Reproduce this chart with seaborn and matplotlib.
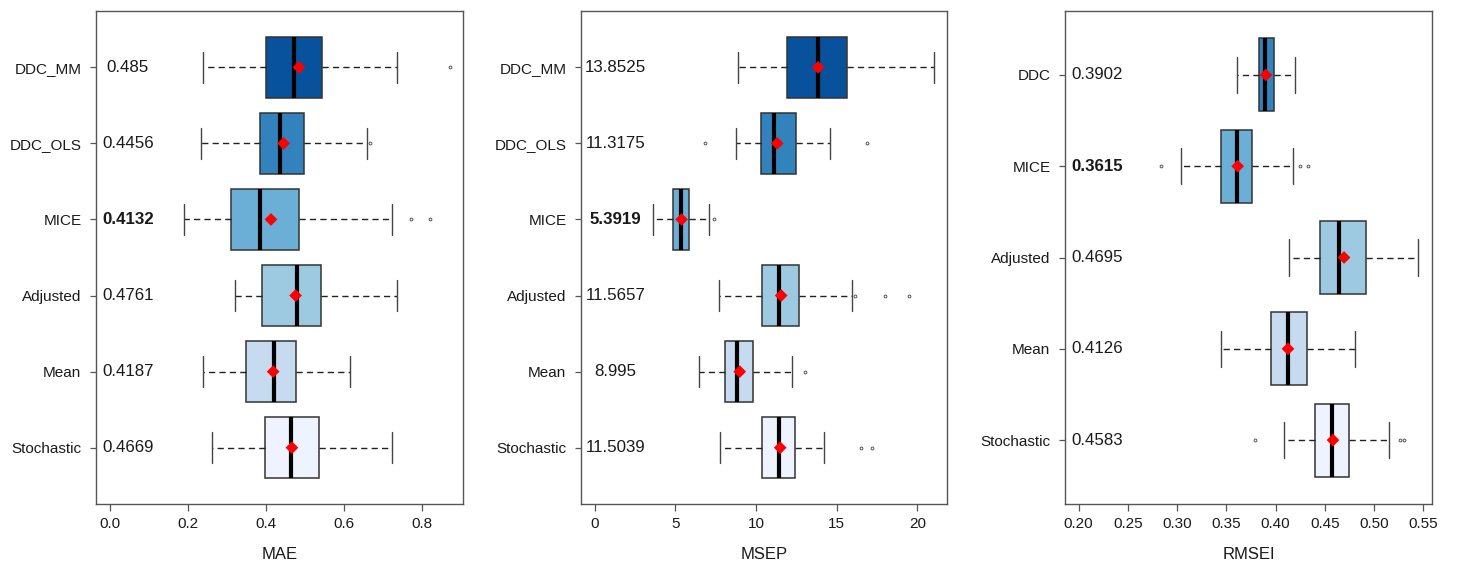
import numpy as np
import matplotlib
matplotlib.use("Agg")
import matplotlib.pyplot as plt
import matplotlib.transforms as mtransforms
import seaborn as sns

# ---- methods ----
methods6 = ["DDC_MM", "DDC_OLS", "MICE", "Adjusted", "Mean", "Stochastic"]
methods5 = ["DDC", "MICE", "Adjusted", "Mean", "Stochastic"]

# ---- MAE summaries (lower whisker, Q1, median, Q3, upper whisker, outliers, mean) ----
mae_lo = [0.238, 0.233, 0.190, 0.322, 0.238, 0.261]
mae_q1 = [0.400, 0.386, 0.310, 0.390, 0.349, 0.397]
mae_med = [0.473, 0.435, 0.385, 0.479, 0.421, 0.464]
mae_q3 = [0.545, 0.498, 0.485, 0.540, 0.477, 0.537]
mae_hi = [0.737, 0.658, 0.723, 0.737, 0.616, 0.724]
mae_out = [[0.872], [0.666], [0.771, 0.820], [], [], []]
mae_mean = [0.485, 0.4456, 0.4132, 0.4761, 0.4187, 0.4669]

# ---- MSEP summaries ----
msep_lo = [8.87, 8.74, 3.65, 7.69, 6.49, 7.75]
msep_q1 = [11.90, 10.33, 4.89, 10.39, 8.08, 10.39]
msep_med = [13.83, 11.09, 5.36, 11.44, 8.84, 11.44]
msep_q3 = [15.67, 12.49, 5.84, 12.64, 9.81, 12.43]
msep_hi = [21.01, 14.62, 7.09, 15.94, 12.25, 14.20]
msep_out = [[], [6.83, 16.91], [7.42], [16.14, 17.98, 19.50], [13.03], [16.53, 17.22]]
msep_mean = [13.8525, 11.3175, 5.3919, 11.5657, 8.995, 11.5039]

# ---- RMSEI summaries ----
rmsei_lo = [0.3613, 0.3039, 0.4138, 0.3441, 0.4090]
rmsei_q1 = [0.3830, 0.3441, 0.4449, 0.3958, 0.4404]
rmsei_med = [0.3891, 0.3610, 0.4642, 0.4124, 0.4577]
rmsei_q3 = [0.3982, 0.3765, 0.4916, 0.4320, 0.4749]
rmsei_hi = [0.4198, 0.4175, 0.5446, 0.4807, 0.5152]
rmsei_out = [[], [0.2832, 0.4249, 0.4327], [], [], [0.3786, 0.5264, 0.5304]]
rmsei_mean = [0.3902, 0.3615, 0.4695, 0.4126, 0.4583]

# ---- axis ticks ----
mae_ticks = [0.0, 0.2, 0.4, 0.6, 0.8]
msep_ticks = [0, 5, 10, 15, 20]
rmsei_ticks = [0.20, 0.25, 0.30, 0.35, 0.40, 0.45, 0.50, 0.55]

blues6 = ["#08519C", "#3182BD", "#6BAED6", "#9ECAE1", "#C6DBEF", "#EFF3FF"]

sns.set_style("ticks")
plt.rcParams["font.family"] = ["Liberation Sans", "DejaVu Sans"]

TXT = "#1a1a1a"
SPINE = "#555555"


def padded(lo, hi, frac=0.04):
    d = (hi - lo) * frac
    return lo - d, hi + d


def draw_panel(ax, names, lo, q1, med, q3, hi, out, means, colors,
               xlabel, xraw, ticks, tickfmt, label_x):
    n = len(names)
    pos = np.arange(n, 0, -1)
    stats = [dict(label=nm, whislo=a, q1=b, med=c, q3=d, whishi=e, fliers=f)
             for nm, a, b, c, d, e, f in zip(names, lo, q1, med, q3, hi, out)]
    kw = dict(positions=pos, widths=0.8, patch_artist=True, showfliers=True,
              boxprops=dict(edgecolor="#333333", linewidth=1.1),
              medianprops=dict(color="black", linewidth=3.0, solid_capstyle="butt"),
              whiskerprops=dict(color="#222222", linewidth=1.0, linestyle=(0, (4.5, 3))),
              capprops=dict(color="#444444", linewidth=1.0),
              flierprops=dict(marker="o", markerfacecolor="none",
                              markeredgecolor="#555555", markersize=2.0,
                              markeredgewidth=0.7, linestyle="none"))
    try:
        arts = ax.bxp(stats, orientation="horizontal", **kw)
    except TypeError:
        arts = ax.bxp(stats, vert=False, **kw)
    for patch, c in zip(arts["boxes"], colors):
        patch.set_facecolor(c)

    sns.scatterplot(x=means, y=pos, marker="D", color="red", s=42,
                    edgecolor="none", ax=ax, zorder=6)

    best = int(np.argmin(means))
    trans = mtransforms.blended_transform_factory(ax.transAxes, ax.transData)
    for i, (p, m) in enumerate(zip(pos, means)):
        ax.text(label_x, p, str(round(m, 4)), transform=trans, ha="center",
                va="center", fontsize=12.2, color=TXT,
                fontweight="bold" if i == best else "normal")

    ax.set_xlim(*padded(*xraw))
    ax.set_ylim(*padded(0.5, n + 0.5))
    ax.set_yticks(pos)
    ax.set_yticklabels(names)
    ax.set_xticks(ticks)
    ax.set_xticklabels([tickfmt.format(t) for t in ticks])
    ax.set_xlabel(xlabel, fontsize=12, color=TXT, labelpad=12)
    ax.set_ylabel("")
    ax.tick_params(axis="y", length=4.5, width=0.9, pad=6, labelsize=11,
                   colors=SPINE, labelcolor=TXT)
    ax.tick_params(axis="x", length=5, width=0.9, pad=4, labelsize=11,
                   colors=SPINE, labelcolor=TXT)
    for sp in ax.spines.values():
        sp.set_visible(True)
        sp.set_color(SPINE)
        sp.set_linewidth(1.0)


fig = plt.figure(figsize=(14.57, 5.62), dpi=100)
ax1 = fig.add_axes([96 / 1457, 58 / 562, 367 / 1457, 493 / 562])
ax2 = fig.add_axes([581 / 1457, 58 / 562, 366 / 1457, 493 / 562])
ax3 = fig.add_axes([1065 / 1457, 58 / 562, 367 / 1457, 493 / 562])

draw_panel(ax1, methods6, mae_lo, mae_q1, mae_med, mae_q3, mae_hi, mae_out,
           mae_mean, blues6, "MAE", (0.0, 0.87), mae_ticks, "{:.1f}", 0.087)
draw_panel(ax2, methods6, msep_lo, msep_q1, msep_med, msep_q3, msep_hi, msep_out,
           msep_mean, blues6, "MSEP", (0.0, 21.0), msep_ticks, "{:d}", 0.094)
draw_panel(ax3, methods5, rmsei_lo, rmsei_q1, rmsei_med, rmsei_q3, rmsei_hi,
           rmsei_out, rmsei_mean, blues6[1:], "RMSEI", (0.2, 0.545),
           rmsei_ticks, "{:.2f}", 0.088)

fig.savefig("out.png", dpi=100, facecolor="white")
